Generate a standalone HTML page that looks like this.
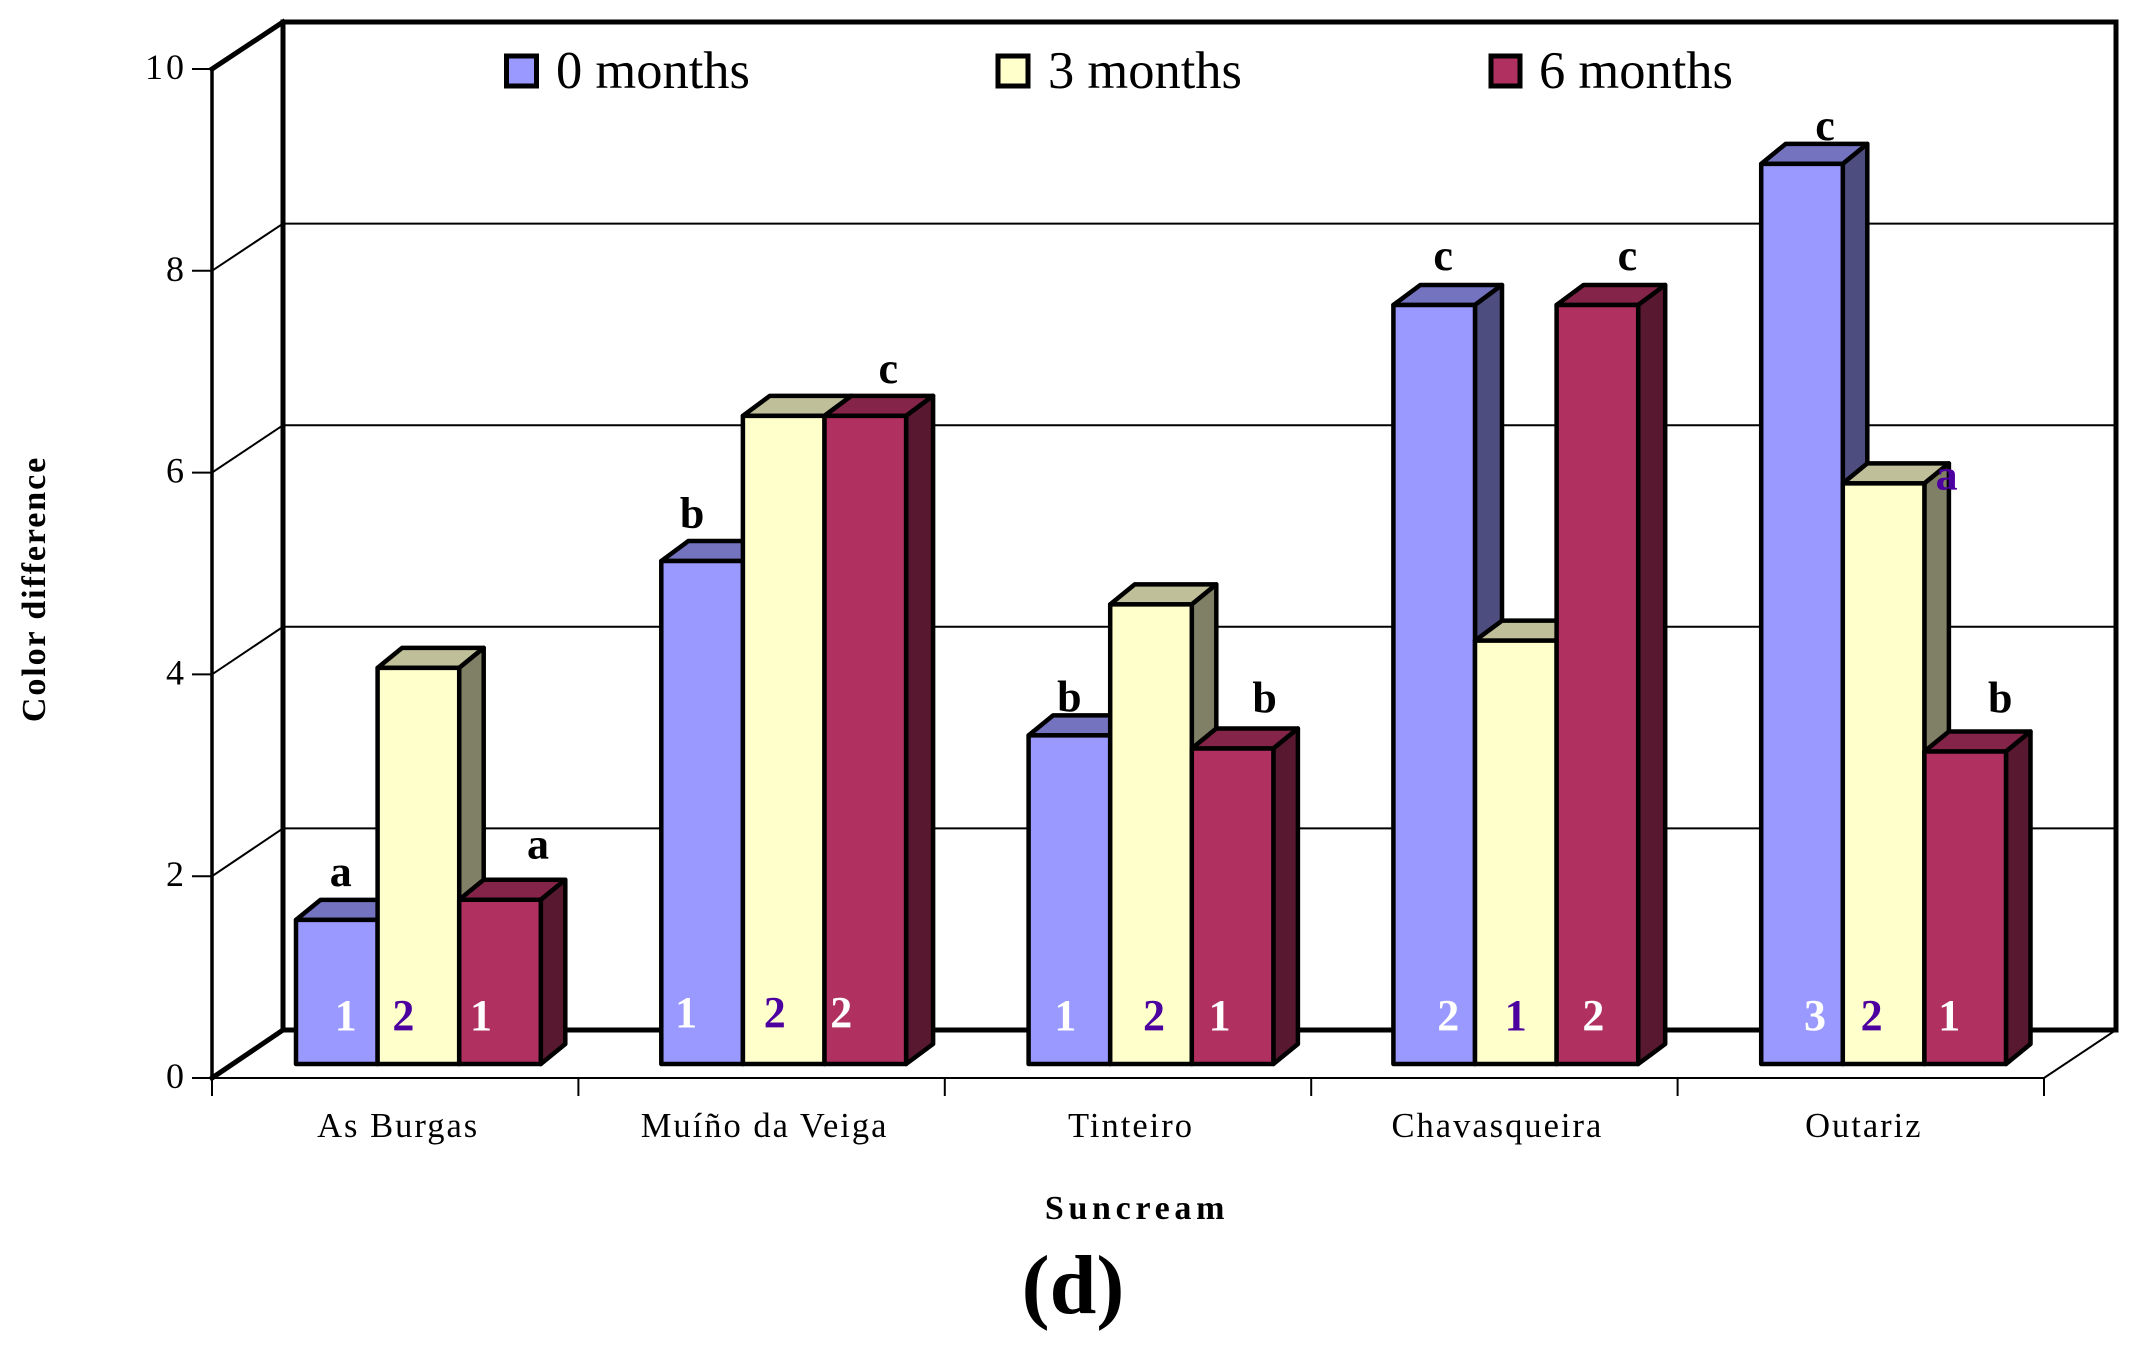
<!DOCTYPE html>
<html lang="en">
<head>
<meta charset="utf-8">
<title>Color difference by suncream</title>
<style>
html,body{margin:0;padding:0;background:#fff;width:2134px;height:1348px;overflow:hidden}
svg{display:block;font-family:"Liberation Serif",serif}
</style>
</head>
<body>
<svg id="chart" xmlns="http://www.w3.org/2000/svg" width="2134" height="1348" viewBox="0 0 2134 1348">
  <rect x="0" y="0" width="2134" height="1348" fill="#ffffff"/>
  <g id="walls"></g>
  <g id="axes"></g>
  <g id="bars"></g>
  <g id="labels"></g>
  <g>
    <g>
      <rect x="506.5" y="56" width="30" height="30" fill="#9999ff" stroke="#000" stroke-width="5"/>
      <text x="556" y="88" font-size="52.5">0 months</text>
    </g>
    <g>
      <rect x="998" y="56" width="30" height="30" fill="#ffffcc" stroke="#000" stroke-width="5"/>
      <text x="1048" y="88" font-size="52.5">3 months</text>
    </g>
    <g>
      <rect x="1491" y="56" width="29" height="30" fill="#b03060" stroke="#000" stroke-width="5"/>
      <text x="1539" y="88" font-size="52.5">6 months</text>
    </g>
  </g>
  <text transform="translate(45,589) rotate(-90)" text-anchor="middle" font-size="34" font-weight="bold" letter-spacing="1.9">Color difference</text>
  <text x="1137" y="1219" text-anchor="middle" font-size="34" font-weight="bold" letter-spacing="4.7">Suncream</text>
  <text x="1073" y="1313" text-anchor="middle" font-size="84" font-weight="bold">(d)</text>
</svg>
<script>
const categories = ['As Burgas', 'Muíño da Veiga', 'Tinteiro', 'Chavasqueira', 'Outariz'];
const seriesNames = ['0 months', '3 months', '6 months'];
const months0 = [1.43, 4.99, 3.26, 7.53, 8.93];
const months3 = [3.93, 6.43, 4.56, 4.20, 5.76];
const months6 = [1.63, 6.43, 3.13, 7.53, 3.10];
const yTicks = [0, 2, 4, 6, 8, 10];
const letters0 = ['a', 'b', 'b', 'c', 'c'];
const letters3 = ['', '', '', '', 'a'];
const letters6 = ['a', 'c', 'b', 'c', 'b'];
const ranks0 = [1, 1, 1, 2, 3];
const ranks3 = [2, 2, 2, 1, 2];
const ranks6 = [1, 2, 1, 2, 1];

const seriesValues = [months0, months3, months6];
const seriesLetters = [letters0, letters3, letters6];
const seriesRanks = [ranks0, ranks3, ranks6];
const faceColors = [
  {front:'#9999ff', top:'#7373c0', side:'#4d4d80'},
  {front:'#ffffcc', top:'#bfbf99', side:'#808066'},
  {front:'#b03060', top:'#842448', side:'#581830'}
];
const SVGNS = 'http://www.w3.org/2000/svg';
const wallsG = document.getElementById('walls');
const axesG = document.getElementById('axes');
const barsG = document.getElementById('bars');
const labelsG = document.getElementById('labels');

const frontLeft = 212, frontRight = 2044, backLeft = 283, backRight = 2116;
const frontBase = 1078, backBase = 1030, barBase = 1064;
const unitFront = 100.9, unitBack = 100.8, unitBar = 100.8;
const barW = 81.6, barDY = 20;
const catStep = (frontRight - frontLeft) / categories.length;

function yFront(v){ return frontBase - v * unitFront; }
function yBack(v){ return backBase - v * unitBack; }
function yBar(v){ return barBase - v * unitBar; }
function xCat(i){ return frontLeft + catStep * i; }
function xBar(c, s){
  const origin = 296 + 366.3 * c;
  const nudge = c === 3 ? -1.5 : (c === 1 ? -1 : 0);
  return origin + nudge + barW * s;
}
function barDepth(c){ return (c === 1 || c === 3) ? 27 : 24.5; }

function make(tag, attrs, parent){
  const el = document.createElementNS(SVGNS, tag);
  for (const k in attrs) el.setAttribute(k, attrs[k]);
  parent.appendChild(el);
  return el;
}
function line(x1, y1, x2, y2, w, parent){
  return make('line', {x1:x1, y1:y1, x2:x2, y2:y2, stroke:'#000', 'stroke-width':w, 'stroke-linecap':'square'}, parent);
}
function poly(points, fill, parent){
  return make('polygon', {points:points.map(p => p.join(',')).join(' '), fill:fill, stroke:'#000', 'stroke-width':4.5, 'stroke-linejoin':'round'}, parent);
}

/* walls and gridlines */
yTicks.forEach(function(t){
  const isEdge = (t === 0 || t === 10);
  const w = isEdge ? 5 : 2;
  const grid = line(backLeft, yBack(t), backRight, yBack(t), w, wallsG);
  
  
  const diag = line(frontLeft, yFront(t), backLeft, yBack(t), w, wallsG);
  
  
});
const backLeftEdge = line(backLeft, yBack(10), backLeft, yBack(0), 5, wallsG);


const backRightEdge = line(backRight, yBack(10), backRight, yBack(0), 5, wallsG);


const floorRight = line(frontRight, frontBase, backRight, backBase, 2, wallsG);



/* axes */
const yAxis = line(frontLeft, yFront(10), frontLeft, yFront(0), 3.5, axesG);


const xAxis = line(frontLeft, frontBase, frontRight, frontBase, 2, axesG);


yTicks.forEach(function(t){
  const tick = line(193, yFront(t), frontLeft, yFront(t), 2, axesG);
  
  
  const lab = make('text', {x:187, y:yFront(t) + 10, 'text-anchor':'end', 'font-size':36, 'letter-spacing':3}, axesG);
  lab.textContent = String(t);
  
  
});
for (let i = 0; i <= categories.length; i++){
  const tick = line(xCat(i), frontBase, xCat(i), 1095, 2, axesG);
  
  
}
categories.forEach(function(name, i){
  const lab = make('text', {x:xCat(i) + catStep / 2 + 3, y:1137, 'text-anchor':'middle', 'font-size':34.5, 'letter-spacing':2}, axesG);
  lab.textContent = name;
  
  
});

/* bars */
categories.forEach(function(name, c){
  seriesValues.forEach(function(values, s){
    const barDX = barDepth(c);
    const x0 = xBar(c, s), x1 = x0 + barW, yt = yBar(values[c]), yb = barBase;
    const col = faceColors[s];
    const g = make('g', {}, barsG);
    
    
    const top = poly([[x0, yt], [x0 + barDX, yt - barDY], [x1 + barDX, yt - barDY], [x1, yt]], col.top, g);
    
    
    const side = poly([[x1, yt], [x1 + barDX, yt - barDY], [x1 + barDX, yb - barDY], [x1, yb]], col.side, g);
    
    
    const front = poly([[x0, yt], [x1, yt], [x1, yb], [x0, yb]], col.front, g);
    
    
  });
});

/* annotations: anchored to the bar each one belongs to, with a small nudge */
function barCenter(c, s){ return xBar(c, s) + barW / 2; }
function drawLetter(c, s, dx, dy, fill){
  const t = make('text', {x:barCenter(c, s) + dx, y:yBar(seriesValues[s][c]) + dy, 'text-anchor':'middle', 'font-size':44, 'font-weight':'bold', fill:fill}, labelsG);
  t.textContent = seriesLetters[s][c];
  
  
}
function drawRank(c, s, dx, y){
  const fill = s === 1 ? '#4d00a0' : '#ffffff';
  const t = make('text', {x:barCenter(c, s) + dx, y:y, 'text-anchor':'middle', 'font-size':44, 'font-weight':'bold', fill:fill}, labelsG);
  t.textContent = String(seriesRanks[s][c]);
  
  
}
drawLetter(0, 0, 4, -34, '#000');
drawLetter(0, 2, 38, -41, '#000');
drawLetter(1, 0, -10, -33, '#000');
drawLetter(1, 2, 23, -33, '#000');
drawLetter(2, 0, 0, -24, '#000');
drawLetter(2, 2, 32, -36, '#000');
drawLetter(3, 0, 9, -35, '#000');
drawLetter(3, 2, 30, -35, '#000');
drawLetter(4, 0, 23, -24, '#000');
drawLetter(4, 1, 63, 6, '#4d00a0');
drawLetter(4, 2, 35, -39, '#000');

drawRank(0, 0, 9, 1030);
drawRank(0, 1, -15, 1030);
drawRank(0, 2, -19, 1030);
drawRank(1, 0, -16, 1027);
drawRank(1, 1, -9, 1027);
drawRank(1, 2, -24, 1027);
drawRank(2, 0, -4, 1030);
drawRank(2, 1, 3, 1030);
drawRank(2, 2, -13, 1030);
drawRank(3, 0, 14, 1030);
drawRank(3, 1, 0, 1030);
drawRank(3, 2, -4, 1030);
drawRank(4, 0, 13, 1030);
drawRank(4, 1, -12, 1030);
drawRank(4, 2, -16, 1030);
</script>
</body>
</html>
